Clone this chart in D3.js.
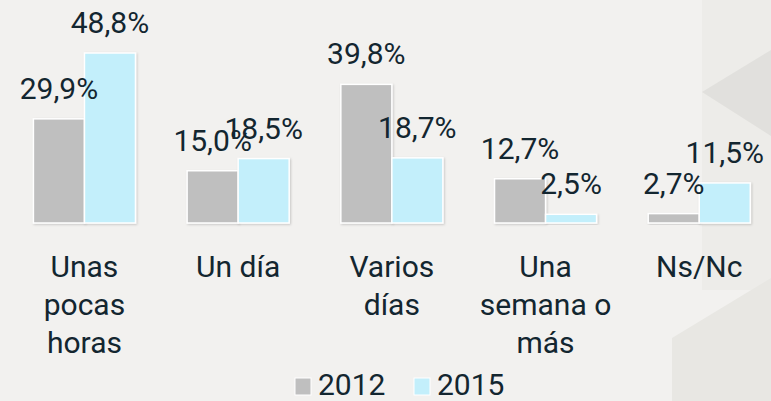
<!DOCTYPE html>
<html>
<head>
<meta charset="utf-8">
<script src="https://cdn.jsdelivr.net/npm/d3@7"></script>
<style>
  html, body { margin: 0; padding: 0; background: #f2f1ef; overflow: hidden; }
  svg { display: block; }
  text { font-family: Roboto, "Noto Sans", sans-serif; fill: #132630; }
</style>
</head>
<body>
<svg></svg>
<script>
  const width = 771,
        height = 401,
        baseline = 223,    // bottom of the bars
        fontSize = 30,
        lineGap = 38;      // spacing of wrapped category lines

  // data
  const categories = ['Unas\npocas\nhoras', 'Un día', 'Varios\ndías', 'Una\nsemana o\nmás', 'Ns/Nc'];
  const years = ['2012', '2015'];
  const values2012 = [29.9, 15.0, 39.8, 12.7, 2.7];
  const values2015 = [48.8, 18.5, 18.7, 2.5, 11.5];
  const colors = ['#bfbfbf', '#c3effb'];

  const series = [values2012, values2015];
  const rows = categories.map((c, i) => ({
    cat: c,
    vals: years.map((y, j) => ({ year: y, v: series[j][i], j: j }))
  }));

  let svg = d3.select('svg')
    .attr('width', width)
    .attr('height', height);

  // background shapes on the right edge
  let bg = svg.append('g');
  bg.append('rect')
    .attr('width', width).attr('height', height)
    .attr('fill', '#f2f1ef');
  bg.append('rect')
    .attr('x', 702).attr('y', 0)
    .attr('width', 69).attr('height', 290)
    .attr('fill', '#edece9');
  bg.append('path')
    .attr('d', 'M702,92 L771,50 L771,136 Z')
    .attr('fill', '#e1e0dd');
  bg.append('path')
    .attr('d', 'M672,338 L771,278 L771,401 L672,401 Z')
    .attr('fill', '#e8e7e3');

  let defs = svg.append('defs');
  let shadow = defs.append('filter').attr('id', 'shadow')
    .attr('x', '-10%').attr('y', '-10%').attr('width', '130%').attr('height', '130%');
  shadow.append('feDropShadow')
    .attr('dx', 1).attr('dy', 1)
    .attr('stdDeviation', 1)
    .attr('flood-color', '#000')
    .attr('flood-opacity', 0.18);

  let x = d3.scaleBand()
    .domain(categories)
    .range([7.6, 776.1])
    .paddingInner(0.336)
    .paddingOuter(0.168);

  let x1 = d3.scaleBand()
    .domain(years)
    .range([0, x.bandwidth()]);

  let y = d3.scaleLinear()
    .domain([0, 48.8])
    .range([baseline, 53]);

  let groups = svg.selectAll('g.cat')
    .data(rows)
    .enter().append('g')
    .attr('class', 'cat')
    .attr('transform', d => 'translate(' + x(d.cat) + ',0)');

  groups.selectAll('rect')
    .data(d => d.vals)
    .enter().append('rect')
    .attr('x', d => x1(d.year))
    .attr('y', d => y(d.v))
    .attr('width', x1.bandwidth())
    .attr('height', d => baseline - y(d.v))
    .attr('fill', d => colors[d.j])
    .attr('stroke', '#ffffff')
    .attr('stroke-width', 1.5)
    .attr('filter', 'url(#shadow)');

  groups.selectAll('text.val')
    .data(d => d.vals)
    .enter().append('text')
    .attr('class', 'val')
    .attr('x', d => x1(d.year) + x1.bandwidth() / 2)
    .attr('y', d => y(d.v) - 20)
    .attr('text-anchor', 'middle')
    .style('font-size', fontSize + 'px')
    .text(d => d3.format('.1f')(d.v).replace('.', ',') + '%');

  // category axis labels, wrapped on \n
  let catText = groups.append('text')
    .attr('text-anchor', 'middle')
    .style('font-size', fontSize + 'px');

  catText.selectAll('tspan')
    .data(d => d.cat.split('\n'))
    .enter().append('tspan')
    .attr('x', x.bandwidth() / 2)
    .attr('y', (d, i) => 277 + i * lineGap)
    .text(d => d);

  // legend
  let legend = svg.append('g')
    .attr('transform', 'translate(295,0)');

  let items = legend.selectAll('g')
    .data(years)
    .enter().append('g')
    .attr('transform', (d, i) => 'translate(' + (i * 119) + ',0)');

  items.append('rect')
    .attr('x', 0).attr('y', 378)
    .attr('width', 16).attr('height', 17)
    .attr('fill', (d, i) => colors[i])
    .attr('stroke', '#ffffff')
    .attr('stroke-width', 1);

  items.append('text')
    .attr('x', 23)
    .attr('y', 395)
    .style('font-size', fontSize + 'px')
    .text(d => d);
</script>
</body>
</html>
